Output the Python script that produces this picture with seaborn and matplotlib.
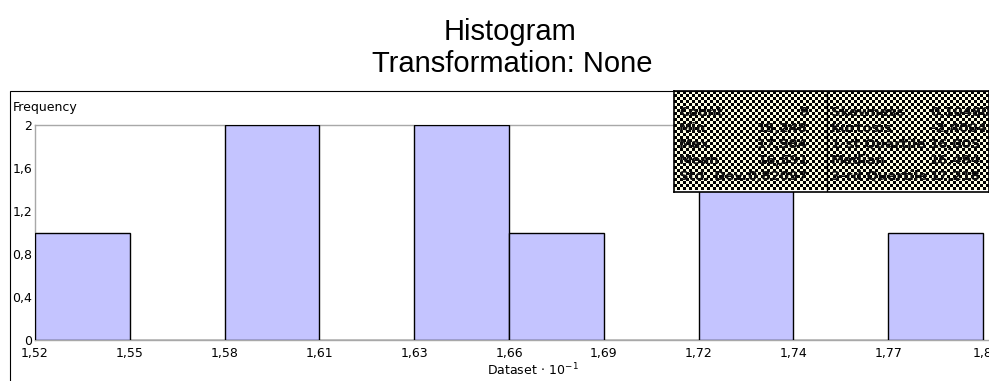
import numpy as np
import pandas as pd
import matplotlib
matplotlib.use('Agg')
import matplotlib.pyplot as plt
import seaborn as sns
from matplotlib.patches import Rectangle
from matplotlib.colors import ListedColormap

# ---- data ----
data_min = 1.5248          # Min (x 10^-1 scale)
data_max = 1.7984          # Max (x 10^-1 scale)
counts = [1, 0, 2, 0, 2, 1, 0, 2, 0, 1]
x_tick_labels = ["1,52", "1,55", "1,58", "1,61", "1,63", "1,66",
                 "1,69", "1,72", "1,74", "1,77", "1,8"]
y_ticks = [0, 0.4, 0.8, 1.2, 1.6, 2]
y_tick_labels = ["0", "0,4", "0,8", "1,2", "1,6", "2"]
stat_names_left = ["Count", "Min", "Max", "Mean", "Std. Dev."]
stat_values_left = ["9", "15,248", "17,984", "16,591", "0,82097"]
stat_names_right = ["Skewness", "Kurtosis", "1-st Quartile", "Median", "3-rd Quartile"]
stat_values_right = ["0,10480", "-2,4004", "16,005", "16,494", "17,218"]

sns.set_theme(style='white')
plt.rcParams['font.family'] = ['DejaVu Sans']
plt.rcParams['mathtext.fontset'] = 'dejavusans'
plt.rcParams['text.color'] = 'black'

W, H = 989, 381
fig = plt.figure(figsize=(W / 100, H / 100), dpi=100)
fig.patch.set_facecolor('white')


def fx(px):
    return px / W


def fy(py):
    return 1 - py / H


edges = np.linspace(data_min, data_max, len(counts) + 1)
centers = (edges[:-1] + edges[1:]) / 2
step = edges[1] - edges[0]
df = pd.DataFrame({"value": centers, "count": counts})

ax_left, ax_right, ax_top, ax_bot = 35, 989, 125, 340
ax = fig.add_axes([fx(ax_left), fy(ax_bot), (ax_right - ax_left) / W, (ax_bot - ax_top) / H])
sns.histplot(data=df, x="value", weights="count", bins=[float(e) for e in edges], ax=ax,
             color='#C4C4FF', alpha=1, edgecolor='black', linewidth=1.0, zorder=3)
px_per_bin = 94.8
ax.set_xlim(data_min, data_min + step * (ax_right - ax_left) / px_per_bin)
ax.set_ylim(0, 2)
ax.set_xticks(edges)
ax.set_xticklabels(x_tick_labels, fontsize=9)
ax.set_yticks(y_ticks)
ax.set_yticklabels(y_tick_labels, fontsize=9)
ax.tick_params(axis='both', length=0, colors='black')
ax.tick_params(axis='x', pad=5)
ax.tick_params(axis='y', pad=2)
ax.set_xlabel('')
ax.set_ylabel('')
for s in ['left', 'bottom', 'top']:
    ax.spines[s].set_color('#A8A8A8')
    ax.spines[s].set_linewidth(1.0)
ax.spines['right'].set_visible(False)
ax.set_facecolor('white')

# outer frame
fig.patches.append(Rectangle((fx(10), fy(395)), 1.2, fy(91) - fy(395), transform=fig.transFigure,
                             fill=False, edgecolor='black', linewidth=0.8, zorder=0))

# titles
fig.text(fx(510), fy(40), "Histogram", ha='center', va='baseline', fontsize=21,
         family='Liberation Sans', color='black')
fig.text(fx(512), fy(72), "Transformation: None", ha='center', va='baseline', fontsize=21,
         family='Liberation Sans', color='black')

fig.text(fx(13), fy(108), "Frequency", ha='left', va='center', fontsize=9, color='black')
fig.text(fx(487), fy(370), r'Dataset$\,\cdot\,$10$^{-1}$', ha='left', va='center', fontsize=9,
         color='black')

# statistics box with checkered background
bx0, bx1, by0, by1 = 674, 989, 91, 192
bw, bh = bx1 - bx0, by1 - by0
bax = fig.add_axes([fx(bx0), fy(by1), bw / W, bh / H])
nx, ny = bw // 3, bh // 3
checker = np.add.outer(np.arange(ny), np.arange(nx)) % 2
bax.imshow(checker, cmap=ListedColormap(['#FFFFE4', 'black']), interpolation='nearest',
           aspect='auto', extent=(0, nx * 3, ny * 3, 0))
bax.set_xlim(0, bw)
bax.set_ylim(bh, 0)
bax.set_xticks([])
bax.set_yticks([])
for s in bax.spines.values():
    s.set_color('black')
    s.set_linewidth(1.2)
bax.axvline(153, color='black', lw=1.0)
row_y = [21, 37, 53, 69, 85]
for i in range(5):
    kw = dict(fontsize=9.5, fontweight='bold', color='#111111', va='center')
    bax.text(5, row_y[i], stat_names_left[i], ha='left', **kw)
    bax.text(134, row_y[i], stat_values_left[i], ha='right', **kw)
    bax.text(157, row_y[i], stat_names_right[i], ha='left', **kw)
    bax.text(256, row_y[i], stat_values_right[i], ha='left', **kw)

fig.savefig('out.png', dpi=100)
